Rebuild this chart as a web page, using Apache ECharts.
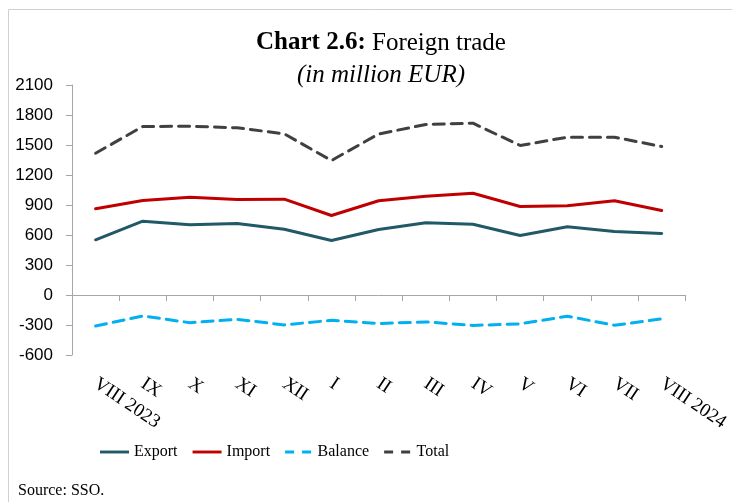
<!DOCTYPE html>
<html>
<head>
<meta charset="utf-8">
<script src="https://cdn.jsdelivr.net/npm/echarts@6/dist/echarts.min.js"></script>
<style>
  html, body { margin: 0; padding: 0; background: #fff; }
  #chart { width: 732px; height: 502px; }
</style>
</head>
<body>
<div id="chart"></div>
<script>
const months = ['VIII 2023', 'IX', 'X', 'XI', 'XII', 'I', 'II', 'III', 'IV', 'V', 'VI', 'VII', 'VIII 2024']
const exportData = [552, 738, 702, 715, 658, 545, 655, 722, 708, 595, 682, 635, 615]
const importData = [862, 945, 978, 955, 958, 795, 942, 988, 1018, 885, 892, 942, 845]
const balanceData = [-310, -210, -277, -243, -299, -253, -285, -269, -304, -289, -212, -303, -239]
const totalData = [1418, 1685, 1688, 1672, 1612, 1345, 1610, 1705, 1718, 1495, 1578, 1578, 1485]

const serif = '"Liberation Serif", "DejaVu Serif", serif'
const axisGray = '#A6A6A6'
// legend icons: a plain bar, and two short dashes
const solidIcon = 'path://M0,0h30v3h-30z'
const dashIcon = 'path://M1.5,0h9v3h-9z M18.5,0h9v3h-9z'

const chart = echarts.init(document.getElementById('chart'))

const line = (name, data, color, dashed) => ({
  name,
  type: 'line',
  data,
  symbol: 'none',
  xAxisIndex: 0,
  lineStyle: { width: 3, color, type: dashed ? [11, 7] : 'solid', cap: 'round' },
  itemStyle: { color },
  z: dashed ? 3 : 2,
})

chart.setOption({
  animation: false,
  graphic: [{
    type: 'rect',
    shape: { x: 8.5, y: 9.5, width: 900, height: 700 },
    style: { fill: 'none', stroke: '#D0D0D0', lineWidth: 1 },
    silent: true,
  }, {
    type: 'text',
    left: 18,
    top: 483,
    style: { text: 'Source: SSO.', font: '16px ' + serif, fill: '#000' },
  }],
  title: {
    text: '{b|Chart 2.6:} Foreign trade\n{i|(in million EUR)}',
    left: 376,
    top: 22,
    textAlign: 'center',
    textStyle: {
      fontFamily: serif,
      fontSize: 25,
      fontWeight: 'normal',
      color: '#000',
      lineHeight: 32,
      rich: {
        b: { fontFamily: serif, fontSize: 25, fontWeight: 'bold', color: '#000', lineHeight: 32 },
        i: { fontFamily: serif, fontSize: 25, fontStyle: 'italic', color: '#000', lineHeight: 32 },
      },
    },
  },
  legend: {
    left: 95,
    top: 439,
    itemWidth: 29,
    itemHeight: 3,
    itemGap: 15,
    textStyle: { fontFamily: serif, fontSize: 16, color: '#000' },
    data: [
      { name: 'Export', icon: solidIcon },
      { name: 'Import', icon: solidIcon },
      { name: 'Balance', icon: dashIcon },
      { name: 'Total', icon: dashIcon },
    ],
  },
  grid: { left: 72, right: 46, top: 85, bottom: 147 },
  xAxis: [{
    type: 'category',
    data: months,
    boundaryGap: true,
    axisLine: { onZero: true, lineStyle: { color: axisGray, width: 1 } },
    axisTick: { show: true, interval: 0, length: 6, lineStyle: { color: axisGray } },
    axisLabel: { show: false },
  }, {
    type: 'category',
    data: months,
    position: 'bottom',
    boundaryGap: true,
    axisLine: { show: false, onZero: false },
    axisTick: { show: false },
    axisLabel: {
      rotate: -34,
      margin: 27,
      interval: 0,
      fontFamily: serif,
      fontSize: 19,
      color: '#000',
    },
  }],
  yAxis: {
    type: 'value',
    min: -600,
    max: 2100,
    interval: 300,
    axisLine: { show: true, lineStyle: { color: axisGray, width: 1 } },
    axisTick: { show: true, length: 6, lineStyle: { color: axisGray } },
    splitLine: { show: false },
    axisLabel: {
      margin: 19,
      fontFamily: '"Liberation Sans", Arial, sans-serif',
      fontSize: 17,
      color: '#000',
      formatter: v => String(v),
    },
  },
  series: [
    line('Export', exportData, '#215967', false),
    line('Import', importData, '#C00000', false),
    line('Balance', balanceData, '#00B0F0', true),
    line('Total', totalData, '#404040', true),
  ],
})
</script>
</body>
</html>
